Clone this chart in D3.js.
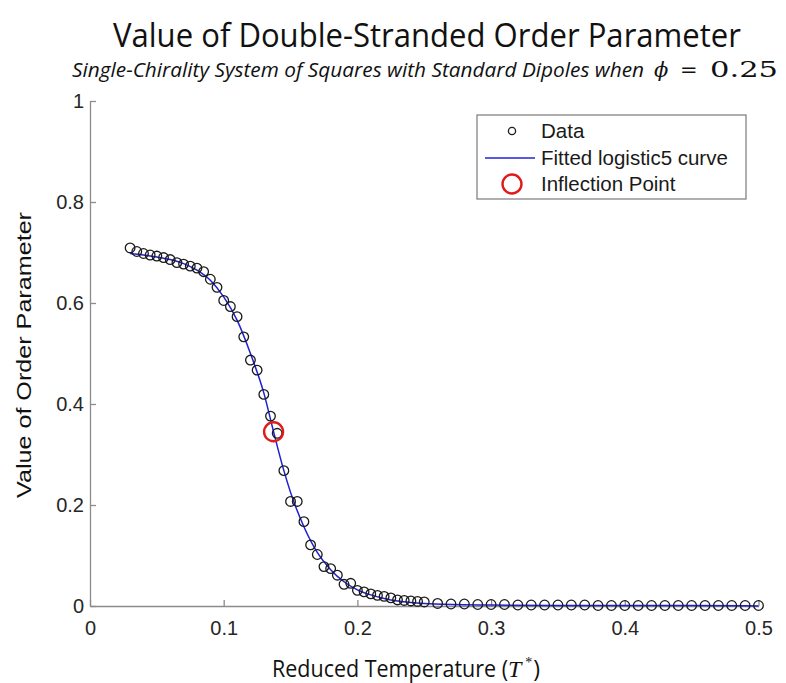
<!DOCTYPE html>
<meta charset="utf-8">
<html>
<head>
    <script src="https://cdn.jsdelivr.net/npm/d3@7"></script>
    <style>
        body { margin: 0; background: #fff; }
    </style>
</head>
<body>
    <script>
    // reduced temperature of each simulation point
    var temps = [0.030, 0.035, 0.040, 0.045, 0.050, 0.055, 0.060, 0.065, 0.070, 0.075,
                 0.080, 0.085, 0.090, 0.095, 0.100, 0.105, 0.110, 0.115, 0.120, 0.125,
                 0.130, 0.135, 0.140, 0.145, 0.150, 0.155, 0.160, 0.165, 0.170, 0.175,
                 0.180, 0.185, 0.190, 0.195, 0.200, 0.205, 0.210, 0.215, 0.220, 0.225,
                 0.230, 0.235, 0.240, 0.245, 0.250,
                 0.26, 0.27, 0.28, 0.29, 0.30, 0.31, 0.32, 0.33, 0.34, 0.35,
                 0.36, 0.37, 0.38, 0.39, 0.40, 0.41, 0.42, 0.43, 0.44, 0.45,
                 0.46, 0.47, 0.48, 0.49, 0.50];
    // order parameter
    var orders = [0.709, 0.702, 0.698, 0.695, 0.693, 0.690, 0.686, 0.680, 0.677, 0.673,
                  0.669, 0.662, 0.647, 0.631, 0.605, 0.593, 0.573, 0.533, 0.487, 0.467,
                  0.419, 0.376, 0.342, 0.268, 0.207, 0.207, 0.167, 0.121, 0.102, 0.078,
                  0.074, 0.061, 0.043, 0.045, 0.031, 0.028, 0.024, 0.021, 0.019, 0.016,
                  0.012, 0.011, 0.010, 0.009, 0.008,
                  0.005, 0.004, 0.004, 0.003, 0.003, 0.003, 0.002, 0.002, 0.002, 0.002,
                  0.002, 0.002, 0.001, 0.001, 0.001, 0.001, 0.001, 0.001, 0.001, 0.001,
                  0.001, 0.001, 0.001, 0.001, 0.001];

    // fitted logistic5 curve, sampled from the drawn line
    var fitT = [0.030, 0.040, 0.050, 0.060, 0.070, 0.080, 0.090, 0.100, 0.110, 0.120,
                0.130, 0.1373, 0.145, 0.150, 0.160, 0.170, 0.180, 0.190, 0.200, 0.210,
                0.220, 0.230, 0.240, 0.250, 0.270, 0.300, 0.350, 0.400, 0.450, 0.500];
    var fitY = [0.698, 0.695, 0.691, 0.686, 0.678, 0.665, 0.645, 0.612, 0.566, 0.500,
                0.422, 0.345, 0.268, 0.225, 0.157, 0.106, 0.072, 0.048, 0.032, 0.022,
                0.015, 0.010, 0.007, 0.005, 0.003, 0.002, 0.001, 0.001, 0.001, 0.000];

    var inflT = [0.1373];
    var inflY = [0.345];

    var xTicks = [0, 0.1, 0.2, 0.3, 0.4, 0.5];
    var yTicks = [0, 0.2, 0.4, 0.6, 0.8, 1];
    var legendLabels = ["Data", "Fitted logistic5 curve", "Inflection Point"];

    var W = 786, H = 683;
    var svg = d3.select("body")
       .append("svg")
       .attr("width", W)
       .attr("height", H);

    var xScale = d3.scaleLinear()
       .domain([0, 0.5])
       .range([90, 758.5]);

    var yScale = d3.scaleLinear()
       .domain([0, 1])
       .range([606, 101]);

    var axisColor = "#8c8c8c";
    var tickFont = "'Liberation Sans', Arial, sans-serif";

    // axes (left + bottom only, inward ticks)
    var gx = svg.append("g")
       .attr("transform", "translate(0," + yScale(0) + ")")
       .call(d3.axisBottom(xScale).tickValues(xTicks).tickSizeInner(-6).tickSizeOuter(0)
             .tickPadding(15).tickFormat(function(d) { return d === 0 ? "0" : d3.format(".1f")(d); }));
    var gy = svg.append("g")
       .attr("transform", "translate(" + xScale(0) + ",0)")
       .call(d3.axisLeft(yScale).tickValues(yTicks).tickSizeInner(-6).tickSizeOuter(0)
             .tickPadding(6).tickFormat(function(d) { return (d === 0 || d === 1) ? String(d) : d3.format(".1f")(d); }));

    [gx, gy].forEach(function(g) {
        g.select(".domain").attr("stroke", axisColor).attr("stroke-width", 1.3);
        g.selectAll(".tick line").attr("stroke", axisColor).attr("stroke-width", 1.3);
        g.selectAll(".tick text")
           .attr("fill", "#262626")
           .style("font-family", tickFont)
           .style("font-size", "20px");
    });
    gx.selectAll(".tick text").attr("dy", "0.71em");

    // fitted line
    var line = d3.line()
       .x(function(d) { return xScale(d[0]); })
       .y(function(d) { return yScale(d[1]); })
       .curve(d3.curveMonotoneX);

    svg.append("path")
       .datum(d3.zip(fitT, fitY))
       .attr("d", line)
       .attr("fill", "none")
       .attr("stroke", "#1f1fd6")
       .attr("stroke-width", 1.5);

    // data markers
    svg.selectAll("circle.data")
       .data(d3.zip(temps, orders))
       .enter()
       .append("circle")
       .attr("class", "data")
       .attr("cx", function(d) { return xScale(d[0]); })
       .attr("cy", function(d) { return yScale(d[1]); })
       .attr("r", 4.8)
       .attr("fill", "none")
       .attr("stroke", "#1a1a1a")
       .attr("stroke-width", 1.3);

    // inflection point
    svg.selectAll("circle.infl")
       .data(d3.zip(inflT, inflY))
       .enter()
       .append("circle")
       .attr("class", "infl")
       .attr("cx", function(d) { return xScale(d[0]); })
       .attr("cy", function(d) { return yScale(d[1]); })
       .attr("r", 9.5)
       .attr("fill", "none")
       .attr("stroke", "#e01b1b")
       .attr("stroke-width", 2.4);

    // legend
    var leg = svg.append("g").attr("transform", "translate(477,115)");
    leg.append("rect")
       .attr("width", 269)
       .attr("height", 84)
       .attr("fill", "#fff")
       .attr("stroke", "#7a7a7a")
       .attr("stroke-width", 1.2);
    var rowY = [16, 43, 69];
    leg.append("circle").attr("cx", 35).attr("cy", rowY[0]).attr("r", 3.6)
       .attr("fill", "none").attr("stroke", "#1a1a1a").attr("stroke-width", 1.3);
    leg.append("line").attr("x1", 8).attr("x2", 58).attr("y1", rowY[1]).attr("y2", rowY[1])
       .attr("stroke", "#5a5ae0").attr("stroke-width", 1.8);
    leg.append("circle").attr("cx", 35).attr("cy", rowY[2]).attr("r", 9.5)
       .attr("fill", "none").attr("stroke", "#e01b1b").attr("stroke-width", 2.4);
    leg.selectAll("text")
       .data(legendLabels)
       .enter()
       .append("text")
       .attr("x", 64)
       .attr("y", function(d, i) { return rowY[i]; })
       .attr("dy", "0.36em")
       .attr("fill", "#1a1a1a")
       .style("font-family", tickFont)
       .style("font-size", "20.5px")
       .text(function(d) { return d; });

    // titles and axis labels
    var labelFont = "'Open Sans', 'Noto Sans', sans-serif";
    svg.append("text")
       .attr("x", 113).attr("y", 47)
       .attr("textLength", 628).attr("lengthAdjust", "spacingAndGlyphs")
       .style("font-family", labelFont).style("font-size", "32px")
       .attr("fill", "#111")
       .text("Value of Double-Stranded Order Parameter");

    var sub = svg.append("text")
       .attr("x", 72).attr("y", 77)
       .attr("fill", "#111")
       .style("font-size", "20px");
    sub.append("tspan")
       .attr("textLength", 572).attr("lengthAdjust", "spacingAndGlyphs")
       .style("font-family", labelFont).style("font-style", "italic")
       .text("Single-Chirality System of Squares with Standard Dipoles when");
    sub.append("tspan")
       .attr("x", 654)
       .style("font-family", "'DejaVu Serif', serif").style("font-style", "italic")
       .style("font-size", "21px")
       .text("\u03d5");
    sub.append("tspan")
       .attr("x", 680)
       .style("font-family", "'DejaVu Serif', serif").style("font-size", "21px")
       .text("=");
    sub.append("tspan")
       .attr("x", 710)
       .attr("textLength", 68).attr("lengthAdjust", "spacingAndGlyphs")
       .style("font-family", "'DejaVu Serif', serif").style("font-size", "22px")
       .text("0.25");

    var xl = svg.append("text")
       .attr("x", 272).attr("y", 677)
       .attr("fill", "#111")
       .style("font-family", labelFont).style("font-size", "23px");
    xl.append("tspan")
       .attr("textLength", 236).attr("lengthAdjust", "spacingAndGlyphs")
       .text("Reduced Temperature (");
    xl.append("tspan")
       .style("font-family", "'Liberation Serif', serif").style("font-style", "italic")
       .style("font-size", "24px")
       .text("T");
    xl.append("tspan")
       .attr("dx", 4).attr("dy", -10)
       .style("font-family", "'Liberation Serif', serif").style("font-size", "14px")
       .text("*");
    xl.append("tspan")
       .attr("dx", 1).attr("dy", 10)
       .text(")");

    svg.append("text")
       .attr("transform", "translate(31,355) rotate(-90)")
       .attr("text-anchor", "middle")
       .attr("textLength", 286).attr("lengthAdjust", "spacingAndGlyphs")
       .attr("fill", "#111")
       .style("font-family", "'Liberation Sans', Arial, sans-serif").style("font-size", "21px")
       .text("Value of Order Parameter");
    </script>
</body>
</html>
